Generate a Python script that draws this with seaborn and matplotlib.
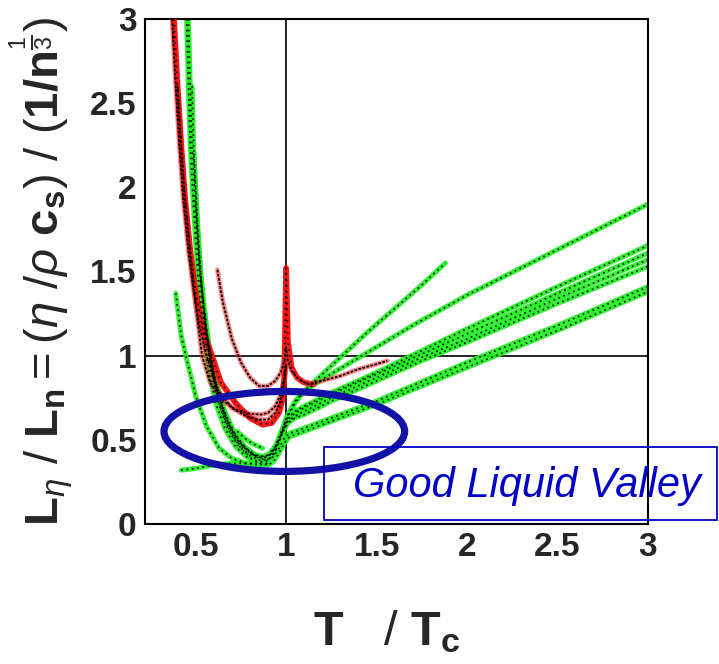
import numpy as np
import pandas as pd
import matplotlib
matplotlib.use("Agg")
import matplotlib.pyplot as plt
import seaborn as sns
from matplotlib.patches import Ellipse, Rectangle

# ---------------- data ----------------
# green family: liquid branches running into straight high-T lines
g1_x = [0.45, 0.46, 0.47, 0.49, 0.51, 0.54, 0.57, 0.61, 0.66, 0.72, 0.78, 0.84, 0.89, 0.93, 0.96, 0.98, 1.00, 1.05, 1.10, 1.20, 1.31, 1.45, 1.60, 1.75, 1.88]
g1_y = [3.00, 2.60, 2.25, 1.85, 1.50, 1.15, 0.92, 0.72, 0.57, 0.46, 0.40, 0.37, 0.37, 0.41, 0.48, 0.55, 0.62, 0.72, 0.79, 0.89, 1.00, 1.14, 1.28, 1.42, 1.55]
g2_x = [0.46, 0.47, 0.48, 0.50, 0.52, 0.55, 0.58, 0.62, 0.67, 0.73, 0.79, 0.85, 0.90, 0.94, 0.97, 1.00, 1.05, 1.10, 1.20, 1.42, 1.70, 2.00, 2.50, 3.00]
g2_y = [3.00, 2.60, 2.25, 1.85, 1.50, 1.15, 0.93, 0.74, 0.58, 0.47, 0.41, 0.38, 0.38, 0.43, 0.52, 0.63, 0.73, 0.79, 0.86, 1.00, 1.18, 1.36, 1.63, 1.90]
g3_x = [0.48, 0.49, 0.51, 0.53, 0.56, 0.60, 0.64, 0.69, 0.75, 0.81, 0.86, 0.90, 0.94, 0.97, 1.00, 1.05, 1.10, 1.25, 1.50, 1.75, 2.00, 2.50, 3.00]
g3_y = [2.60, 2.20, 1.80, 1.45, 1.15, 0.90, 0.72, 0.58, 0.48, 0.42, 0.40, 0.41, 0.46, 0.54, 0.62, 0.67, 0.70, 0.78, 0.90, 1.03, 1.16, 1.41, 1.655]
g4_x = [0.49, 0.51, 0.53, 0.56, 0.60, 0.65, 0.70, 0.76, 0.82, 0.87, 0.91, 0.95, 0.98, 1.01, 1.05, 1.10, 1.25, 1.50, 1.75, 2.00, 2.50, 3.00]
g4_y = [2.20, 1.75, 1.42, 1.12, 0.88, 0.68, 0.55, 0.46, 0.41, 0.39, 0.41, 0.47, 0.55, 0.62, 0.66, 0.69, 0.77, 0.89, 1.01, 1.13, 1.37, 1.61]
g5_x = [0.50, 0.52, 0.55, 0.58, 0.62, 0.67, 0.72, 0.78, 0.83, 0.88, 0.92, 0.95, 0.98, 1.01, 1.05, 1.10, 1.25, 1.50, 1.75, 2.00, 2.50, 3.00]
g5_y = [1.90, 1.55, 1.20, 0.96, 0.77, 0.60, 0.50, 0.43, 0.40, 0.39, 0.42, 0.48, 0.55, 0.61, 0.64, 0.67, 0.75, 0.87, 0.99, 1.10, 1.34, 1.57]
g6_x = [0.52, 0.54, 0.57, 0.61, 0.66, 0.71, 0.77, 0.83, 0.88, 0.92, 0.95, 0.98, 1.01, 1.05, 1.10, 1.25, 1.50, 1.75, 2.00, 2.50, 3.00]
g6_y = [1.60, 1.35, 1.08, 0.85, 0.67, 0.55, 0.46, 0.41, 0.40, 0.42, 0.47, 0.54, 0.60, 0.63, 0.65, 0.73, 0.85, 0.97, 1.08, 1.31, 1.53]
g7_x = [0.53, 0.55, 0.58, 0.62, 0.67, 0.73, 0.79, 0.85, 0.89, 0.93, 0.96, 0.99, 1.02, 1.05, 1.20, 1.50, 2.00, 2.50, 3.00]
g7_y = [1.45, 1.22, 0.98, 0.78, 0.62, 0.50, 0.43, 0.39, 0.38, 0.40, 0.45, 0.51, 0.54, 0.55, 0.61, 0.73, 0.96, 1.18, 1.41]
g8_x = [0.55, 0.57, 0.60, 0.64, 0.69, 0.75, 0.81, 0.86, 0.90, 0.93, 0.96, 0.99, 1.02, 1.05, 1.20, 1.50, 2.00, 2.50, 3.00]
g8_y = [1.25, 1.05, 0.85, 0.68, 0.55, 0.45, 0.39, 0.36, 0.35, 0.37, 0.42, 0.48, 0.52, 0.53, 0.59, 0.71, 0.93, 1.15, 1.38]
g9_x = [0.39, 0.42, 0.45, 0.50, 0.56, 0.63, 0.70, 0.78, 0.85, 0.90]
g9_y = [1.37, 1.12, 0.98, 0.76, 0.58, 0.45, 0.39, 0.36, 0.35, 0.36]
g10_x = [0.42, 0.50, 0.57, 0.63, 0.70, 0.78, 0.86]
g10_y = [0.32, 0.33, 0.345, 0.355, 0.36, 0.36, 0.36]
g11_x = [0.73, 0.77, 0.81, 0.87]
g11_y = [0.55, 0.51, 0.48, 0.45]

# red family: near-critical branches with the spike at T = Tc
rA_x = [0.38, 0.40, 0.42, 0.44, 0.47, 0.50, 0.54, 0.59, 0.64, 0.72, 0.80, 0.87, 0.92, 0.96, 0.98, 0.99, 1.00, 1.01, 1.03, 1.06, 1.10, 1.15]
rA_y = [3.00, 2.60, 2.25, 1.95, 1.62, 1.38, 1.15, 1.00, 0.84, 0.72, 0.63, 0.59, 0.60, 0.66, 0.74, 0.88, 1.52, 1.08, 0.93, 0.87, 0.84, 0.83]
rB_x = [0.37, 0.39, 0.41, 0.43, 0.46, 0.49, 0.52, 0.56, 0.62, 0.70, 0.78, 0.85, 0.90, 0.94, 0.97, 0.99, 1.00]
rB_y = [3.00, 2.60, 2.25, 1.95, 1.62, 1.38, 1.18, 1.00, 0.80, 0.69, 0.64, 0.62, 0.62, 0.66, 0.73, 0.84, 0.95]
rC_x = [0.40, 0.42, 0.44, 0.47, 0.50, 0.535, 0.58, 0.64, 0.72, 0.80, 0.86, 0.90, 0.94, 0.97, 0.99, 1.00]
rC_y = [2.60, 2.25, 1.95, 1.62, 1.30, 1.00, 0.84, 0.74, 0.68, 0.655, 0.65, 0.66, 0.70, 0.77, 0.87, 0.95]
rD_x = [0.62, 0.65, 0.70, 0.75, 0.80, 0.85, 0.90, 0.94, 0.97, 0.99, 1.00, 1.01, 1.03, 1.07, 1.12, 1.20, 1.30, 1.40, 1.50, 1.56]
rD_y = [1.51, 1.32, 1.10, 0.96, 0.87, 0.82, 0.82, 0.85, 0.90, 0.97, 1.05, 0.97, 0.91, 0.86, 0.83, 0.85, 0.88, 0.92, 0.95, 0.97]

x_ticks = [0.5, 1, 1.5, 2, 2.5, 3]
x_tick_labels = ["0.5", "1", "1.5", "2", "2.5", "3"]
y_ticks = [0, 0.5, 1, 1.5, 2, 2.5, 3]
y_tick_labels = ["0", "0.5", "1", "1.5", "2", "2.5", "3"]

annotation_text = "Good Liquid Valley"

curves = [
    ("g1", "green", g1_x, g1_y), ("g2", "green", g2_x, g2_y), ("g3", "green", g3_x, g3_y),
    ("g4", "green", g4_x, g4_y), ("g5", "green", g5_x, g5_y), ("g6", "green", g6_x, g6_y),
    ("g7", "green", g7_x, g7_y), ("g8", "green", g8_x, g8_y), ("g9", "green", g9_x, g9_y),
    ("g10", "green", g10_x, g10_y), ("g11", "green", g11_x, g11_y),
    ("rB", "darkred", rB_x, rB_y), ("rC", "darkred", rC_x, rC_y),
    ("rA", "red", rA_x, rA_y), ("rD", "darkred", rD_x, rD_y),
]
rows = []
for name, fam, xs, ys in curves:
    for x, y in zip(xs, ys):
        rows.append((name, fam, x, y))
df = pd.DataFrame(rows, columns=["curve", "family", "T", "L"])

# ---------------- figure ----------------
sns.set_theme(style="white")
plt.rcParams["font.family"] = ["Liberation Sans", "DejaVu Sans"]
plt.rcParams["mathtext.fontset"] = "custom"
plt.rcParams["mathtext.rm"] = "Liberation Sans"
plt.rcParams["mathtext.bf"] = "Liberation Sans:bold"
plt.rcParams["mathtext.it"] = "Liberation Sans:italic"

W, H = 719, 664
fig = plt.figure(figsize=(W / 100, H / 100), dpi=100)
ax = fig.add_axes([145 / W, 140 / H, 503 / W, 505 / H])

ax.axvline(1, color="black", lw=1.2, zorder=1)
ax.axhline(1, color="black", lw=1.2, zorder=1)

style = {
    "green":   dict(color="#1cf01c", lw=3.6, alpha=0.9, zorder=2),
    "red":     dict(color="#ff0a0a", lw=4.2, alpha=0.95, zorder=3),
    "darkred": dict(color="#ff2a2a", lw=3.4, alpha=0.55, zorder=3),
}
dots = {
    "green":   dict(lw=1.2, linestyle=(0, (1, 2.2))),
    "red":     dict(lw=1.2, linestyle=(0, (1, 2.5))),
    "darkred": dict(lw=1.3, linestyle=(0, (1.5, 0.8))),
}
for name, sub in df.groupby("curve", sort=False):
    fam = sub["family"].iloc[0]
    sns.lineplot(data=sub, x="T", y="L", sort=False, estimator=None, ax=ax,
                 solid_capstyle="round", **style[fam])
for name, sub in df.groupby("curve", sort=False):
    fam = sub["family"].iloc[0]
    sns.lineplot(data=sub, x="T", y="L", sort=False, estimator=None, ax=ax,
                 color="black", zorder=4, **dots[fam])

ax.set_xlim(0.22, 3.0)
ax.set_ylim(0, 3)
ax.set_xticks(x_ticks)
ax.set_xticklabels(x_tick_labels)
ax.set_yticks(y_ticks)
ax.set_yticklabels(y_tick_labels)
ax.tick_params(direction="in", length=4, width=1, color="black",
               labelsize=24, pad=6)
for lab in ax.get_xticklabels() + ax.get_yticklabels():
    lab.set_fontweight("bold")
for sp in ax.spines.values():
    sp.set_color("black")
    sp.set_linewidth(1.5)

ax.set_xlabel(r"$\mathbf{T}\quad/\ \mathbf{T}_{\mathbf{c}}$", fontsize=35)
ax.xaxis.set_label_coords(0.48, -0.2396)
ax.xaxis.label.set_va("baseline")

ax.set_ylabel(r"$\mathbf{L}_{\eta}\ /\ \mathbf{L}_{\mathbf{n}} = (\eta\ /\rho\ \mathbf{c}_{\mathbf{s}})\ /\ (\mathbf{1/n}^{\frac{1}{3}})$",
              fontsize=34)
ax.yaxis.set_label_coords(-0.205, 0.5)
ax.yaxis.label.set_va("center")

ell = Ellipse((0.99, 0.55), width=1.33, height=0.475, fill=False,
              ec="#1212a6", lw=5.2, zorder=6)
ax.add_patch(ell)

fig.patches.append(Rectangle((324 / W, (H - 520) / H), (717 - 324) / W, 73 / H,
                             transform=fig.transFigure, fill=False,
                             ec="#0000c8", lw=1.3, zorder=7))
fig.text(527 / W, (H - 497) / H, annotation_text, ha="center", va="baseline",
         fontsize=30, style="italic", color="#0000c8", zorder=8)

fig.savefig("out.png", dpi=100)
